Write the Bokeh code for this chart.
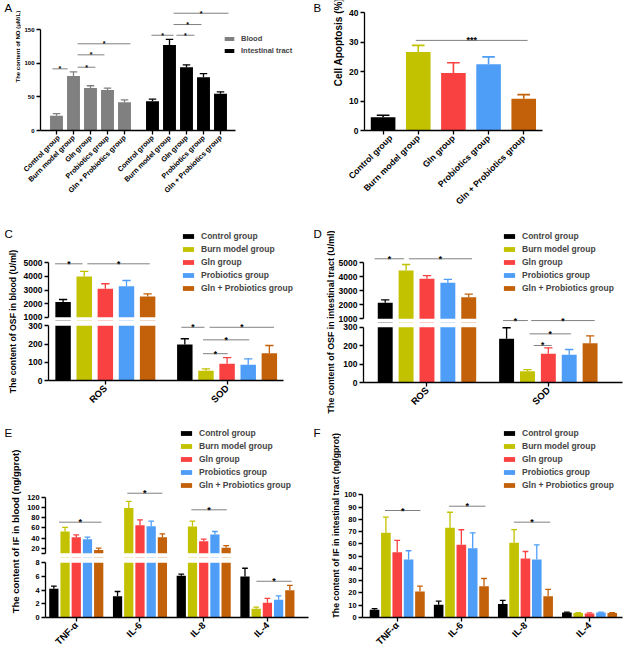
import numpy as np
from math import pi
from bokeh.plotting import figure
from bokeh.models import Range1d, FixedTicker, Label, Legend, LegendItem
from bokeh.layouts import row, column
from bokeh.embed import file_html
from bokeh.resources import INLINE
from bokeh.core.properties import value

FONT = "Liberation Sans"
GROUPS = ["Control group", "Burn model group", "Gln group", "Probiotics group", "Gln + Probiotics group"]
COLORS = ["#000000", "#C2C200", "#F94141", "#4E9EF8", "#C2610A"]
GREY = "#808080"
SIGC = "#808080"

# ---------------- data ----------------
# A: NO content (uM/L)
no_blood = [22, 81, 63, 60, 42]
no_blood_sd = [3, 6, 3.5, 3, 3.5]
no_int = [43.5, 127, 94, 79, 54.5]
no_int_sd = [3, 8.5, 3.5, 5.5, 3]
sigA_group = [0, 0, 0, 0, 1, 1, 1, 1]
sigA_from = [-0.24, 1.24, 1.24, 1.24, -0.06, 1.41, 1.24, 1.24]
sigA_to = [0.65, 2.29, 2.82, 4.35, 1.24, 2.47, 2.88, 4.47]
sigA_y = [91.6, 94.0, 112.4, 128.8, 141.5, 141.5, 157.4, 174.2]

# B: cell apoptosis (%)
apop = [4.5, 26.7, 19.5, 22.5, 10.8]
apop_sd = [0.7, 2.2, 3.5, 2.5, 1.4]
sigB_from = [0.93]
sigB_to = [4.11]
sigB_y = [30.6]

# C: OSF in blood (U/ml) - rows: groups, cols: ROS, SOD
osf_cats = ["ROS", "SOD"]
osfC = [[2110, 198], [4000, 53], [3090, 92], [3280, 86], [2520, 150]]
osfC_sd = [[190, 31], [370, 11], [370, 33], [420, 33], [200, 42]]
sigC_group = [0, 0, 1, 1, 1, 1]
sigC_from = [-0.38, 1.15, -0.16, 1.17, 0.86, 0.86]
sigC_to = [0.92, 4.10, 0.93, 4.22, 3.05, 2.03]
sigC_y = [4926, 4926, 292, 292, 223, 147]

# D: OSF in intestinal tract (U/ml)
osfD = [[2150, 237], [4450, 61], [3860, 156], [3570, 150], [2540, 213]]
osfD_sd = [[200, 60], [430, 9], [230, 32], [240, 29], [220, 40]]
sigD_group = [0, 0, 1, 1, 1, 1]
sigD_from = [-0.51, 1.13, -0.17, 1.18, 1.10, 1.30]
sigD_to = [0.90, 4.16, 1.02, 4.22, 3.08, 2.16]
sigD_y = [5286, 5286, 336, 336, 264, 201]

# E: IF in blood (ng/gprot) - rows: groups, cols: TNF-a, IL-6, IL-8, IL-4
if_cats = ["TNF-α", "IL-6", "IL-8", "IL-4"]
ifE = [[4.2, 3.1, 6.1, 6.0], [52.7, 98.8, 62.5, 1.27], [41.6, 65, 33.7, 2.15],
       [37.6, 63, 46.9, 2.6], [16.5, 41.6, 20.8, 4.0]]
ifE_sd = [[0.4, 0.7, 0.25, 1.2], [8.3, 13, 10.5, 0.25], [4.4, 10.5, 3.9, 0.65],
          [4.0, 10, 5.8, 0.55], [3.5, 6.6, 4.2, 0.7]]
sigE_group = [0, 1, 2, 3]
sigE_from = [0.46, 0.87, 0.90, 1.02]
sigE_to = [4.25, 4.00, 4.06, 4.16]
sigE_y = [71, 127.8, 95.3, 5.3]

# F: IF in intestinal tract (ng/gprot)
ifF = [[6.3, 10.3, 11.1, 4.0], [69, 73.1, 60.9, 3.6], [53.2, 59.2, 48.1, 3.3],
       [47.3, 56.5, 47.3, 4.0], [21.2, 25.5, 17.4, 3.6]]
ifF_sd = [[1.0, 3.0, 2.8, 0.4], [12.8, 12.7, 10.8, 0.4], [9.6, 12.3, 5.7, 0.4],
          [7.1, 12.5, 11.9, 0.4], [4.3, 6.3, 5.6, 0.4]]
sigF_group = [0, 1, 2]
sigF_from = [0.92, 0.92, 0.98]
sigF_to = [4.04, 4.13, 4.19]
sigF_y = [87.2, 90.7, 77.7]


# ---------------- helpers ----------------
def new_fig(w, h, bl, br, bb, xr, yr, extra=None, xaxis=True):
    kw = {}
    if extra is not None:
        kw["extra_y_ranges"] = extra
    if not xaxis:
        kw["x_axis_location"] = None
    p = figure(width=w, height=h, x_range=xr, y_range=yr, output_backend="svg",
               toolbar_location=None, min_border_left=bl, min_border_right=br,
               min_border_top=0, min_border_bottom=bb, **kw)
    p.outline_line_color = None
    p.grid.visible = False
    p.border_fill_color = "white"
    p.background_fill_color = "white"
    return p


def strip(w, h, letter, lx, ly, ylabel, cx, cy, fs):
    s = figure(width=w, height=h, x_range=Range1d(0, w), y_range=Range1d(h, 0),
               x_axis_location=None, y_axis_location=None, min_border=0,
               output_backend="svg", toolbar_location=None)
    s.outline_line_color = None
    s.grid.visible = False
    s.add_layout(Label(x=lx, y=ly, text=letter, text_font=FONT, text_font_size="11.5px",
                       text_baseline="alphabetic", text_align="left", text_color="black"))
    s.add_layout(Label(x=cx, y=cy, text=ylabel, angle=pi / 2, text_font=FONT,
                       text_font_size=f"{fs}px", text_font_style="bold",
                       text_align="center", text_baseline="middle", text_color="black"))
    return s


def style_axis(ax, fs, lw=1.3):
    ax.axis_line_color = "black"
    ax.axis_line_width = lw
    ax.major_tick_line_color = "black"
    ax.major_tick_line_width = lw
    ax.major_tick_out = 4
    ax.major_tick_in = 0
    ax.minor_tick_line_color = None
    ax.major_label_text_font = FONT
    ax.major_label_text_font_style = "bold"
    ax.major_label_text_font_size = f"{fs}px"
    ax.major_label_text_color = "black"
    ax.major_label_standoff = 2


def y_axis(ax, fs, ticks, bounds, overrides=None):
    style_axis(ax, fs)
    ax.ticker = FixedTicker(ticks=list(ticks), minor_ticks=[])
    ax.bounds = bounds
    if overrides:
        ax.major_label_overrides = overrides


def x_cat_axis(ax, ticks, labels, fs, bounds=None):
    style_axis(ax, fs)
    ax.ticker = FixedTicker(ticks=list(ticks), minor_ticks=[])
    ax.major_label_overrides = {float(t): l for t, l in zip(ticks, labels)}
    ax.major_label_orientation = pi / 4
    if bounds is not None:
        ax.bounds = bounds


def err_bars(p, xs, tops, sds, color, capw, lw, rng="default"):
    xs = np.asarray(xs, float)
    tops = np.asarray(tops, float)
    e = tops + np.asarray(sds, float)
    p.segment(x0=xs, y0=tops, x1=xs, y1=e, line_color=color, line_width=lw, y_range_name=rng)
    p.segment(x0=xs - capw, y0=e, x1=xs + capw, y1=e, line_color=color, line_width=lw,
              y_range_name=rng)


def broken_bars(p, xs, vals, sds, color, width, cut, start, capw, lw):
    xs = np.asarray(xs, float)
    vals = np.asarray(vals, float)
    sds = np.asarray(sds, float)
    r = p.vbar(x=xs, top=np.minimum(vals, cut), bottom=0, width=width,
               fill_color=color, line_color=None, y_range_name="l")
    up = vals > start
    if up.any():
        p.vbar(x=xs[up], top=vals[up], bottom=start, width=width, fill_color=color,
               line_color=None, y_range_name="u")
        err_bars(p, xs[up], vals[up], sds[up], color, capw, lw, "u")
    lo = ~up
    if lo.any():
        err_bars(p, xs[lo], vals[lo], sds[lo], color, capw, lw, "l")
    return r


def sig_lines(p, base, mid, step, groups, frm, to, ys, rngs, fs, txt="*"):
    # draw each significance bracket only in the figure whose frame holds it
    for rn in sorted(set(rngs)):
        rg = p.y_range if rn == "default" else p.extra_y_ranges[rn]
        lo_v, hi_v = min(rg.start, rg.end), max(rg.start, rg.end)
        idx = [k for k in range(len(ys)) if rngs[k] == rn and lo_v <= ys[k] <= hi_v]
        if not idx:
            continue
        x0 = np.array([base[groups[k]] + (frm[k] - mid) * step for k in idx])
        x1 = np.array([base[groups[k]] + (to[k] - mid) * step for k in idx])
        y = np.array([ys[k] for k in idx], float)
        p.segment(x0=x0, y0=y, x1=x1, y1=y, line_color=SIGC, line_width=1, y_range_name=rn)
        p.text(x=(x0 + x1) / 2, y=y, text=[txt] * len(idx), text_align="center",
               text_baseline="alphabetic", y_offset=0, text_font=value(FONT),
               text_font_style="bold", text_font_size=value(f"{fs}px"),
               text_color="black", y_range_name=rn)


def add_legend(p, renderers, labels, vx, vy, fs, gw=14, gh=6, lh=13, standoff=6):
    items = [LegendItem(label=l, renderers=[r]) for l, r in zip(labels, renderers)]
    lg = Legend(items=items, location=(vx, vy), glyph_width=gw, glyph_height=gh,
                label_height=lh, label_standoff=standoff, spacing=0, padding=0, margin=0,
                border_line_color=None, background_fill_alpha=0,
                label_text_font=FONT, label_text_font_style="bold",
                label_text_font_size=f"{fs}px")
    p.add_layout(lg)


def seg_range(top, bottom, v0, p0, s):
    # range whose frame spans pixel rows [top, bottom], value v0 sits at row p0, s px per unit
    return Range1d(v0 + (p0 - bottom) / s, v0 + (p0 - top) / s)


def broken_pair(w, bl, br, top, split, bottom, canvas_bottom, xr, ua, la):
    figs = []
    for ft, fb, cb, upper in [(top, split, split, True), (split, bottom, canvas_bottom, False)]:
        ru = seg_range(ft, fb, *ua)
        rl = seg_range(ft, fb, *la)
        p = new_fig(w, cb - ft, bl, br, cb - fb, xr, ru if upper else rl,
                    extra={"u": ru, "l": rl}, xaxis=not upper)
        figs.append(p)
    return figs


# ---------------- panel A ----------------
GAP_A = 5.647
xsA_blood = np.arange(5) * 1.0
xsA_int = GAP_A + np.arange(5)
pA = new_fig(289, 224, 19, 10, 94, Range1d(-0.941, 14.353), Range1d(0, 193.1))
rA1 = pA.vbar(x=xsA_blood, top=no_blood, width=0.76, fill_color=GREY, line_color=None)
rA2 = pA.vbar(x=xsA_int, top=no_int, width=0.76, fill_color="black", line_color=None)
err_bars(pA, xsA_blood, no_blood, no_blood_sd, GREY, 0.22, 1.3)
err_bars(pA, xsA_int, no_int, no_int_sd, "black", 0.22, 1.3)
sig_lines(pA, [0.0, GAP_A], 0, 1.0, sigA_group, sigA_from, sigA_to, sigA_y,
          ["default"] * len(sigA_y), 7)
y_axis(pA.yaxis[0], 6, [0, 50, 100, 150], (0, 150))
x_cat_axis(pA.xaxis[0], list(xsA_blood) + list(xsA_int), GROUPS + GROUPS, 7.2,
           bounds=(-0.941, 10.53))
add_legend(pA, [rA1, rA2], ["Blood", "Intestinal tract"], 183, 74, 7.5, gw=12, gh=5, lh=12)
sA = strip(21, 224, "A", 4, 13.5, "The content of NO (μM/L)", 17, 79.6, 6)

# ---------------- panel B ----------------
xsB = np.arange(5) * 1.0
pB = new_fig(278, 224, 16, 82, 93, Range1d(-0.529, 4.534), Range1d(0, 44.15))
pB.vbar(x=xsB, top=apop, width=0.70, fill_color=COLORS, line_color=None)
for i in range(5):
    err_bars(pB, [xsB[i]], [apop[i]], [apop_sd[i]], COLORS[i], 0.18, 1.6)
sig_lines(pB, [0.0], 0, 1.0, [0], sigB_from, sigB_to, sigB_y, ["default"], 9, txt="***")
y_axis(pB.yaxis[0], 8.5, [0, 10, 20, 30, 40], (0, 40))
x_cat_axis(pB.xaxis[0], xsB, GROUPS, 8.7)
sB = strip(36, 224, "B", 3, 13.5, "Cell Apoptosis (%)", 28, 71.7, 10)


# ---------------- panels C, D (broken y axis) ----------------
def osf_panel(vals, sds, w, bl, br, split, bottom, xr, ua, la, step, bw, sig, leg_pos, xb=None):
    up, lo = broken_pair(w, bl, br, 224, split, bottom, 424, xr, ua, la)
    rngs = ["u" if g == 0 else "l" for g in sig[0]]
    legend_rs = []
    for p in (up, lo):
        rs = []
        for i in range(5):
            xs = np.arange(2) + (i - 2) * step
            rs.append(broken_bars(p, xs, vals[i], sds[i], COLORS[i], bw, 300, 1000, 0.034, 1.3))
        sig_lines(p, [0.0, 1.0], 2, step, sig[0], sig[1], sig[2], sig[3], rngs, 8.5)
        legend_rs.append(rs)
    y_axis(up.yaxis[0], 8.5, [1000, 2000, 3000, 4000, 5000], (1000, 5000))
    y_axis(lo.yaxis[0], 8.5, [0, 100, 200, 300], (0, 300))
    x_cat_axis(lo.xaxis[0], [0, 1], osf_cats, 9.5, bounds=xb)
    add_legend(up, legend_rs[0], GROUPS, leg_pos[0], leg_pos[1], 8.5)
    return column(up, lo)


mC = osf_panel(osfC, osfC_sd, 290, 26, 10, 320, 380, Range1d(-0.467, 1.603),
               (1000, 316.7, 0.0136), (0, 380, 0.1823), 0.1736, 0.127,
               (sigC_group, sigC_from, sigC_to, sigC_y), (133, 26), xb=(-0.467, 1.465))
sC = strip(20, 200, "C", 4, 9.5, "The content of OSF in blood (U/ml)", 12, 97, 8.7)

mD = osf_panel(osfD, osfD_sd, 289, 26, 2, 322, 382, Range1d(-0.523, 1.611),
               (1000, 318.3, 0.0140), (0, 382, 0.1843), 0.172, 0.123,
               (sigD_group, sigD_from, sigD_to, sigD_y), (139, 28))
sD = strip(25, 200, "D", 3, 9.5, "The content of OSF in intestinal tract (U/ml)", 20, 97.5, 8.9)

# ---------------- panel E (broken y axis) ----------------
xrE = Range1d(-0.483, 3.645)
upE, loE = broken_pair(286, 19, 2, 424, 557, 617, 664, xrE, (20, 547.7, 0.51), (0, 617, 6.8375))
stepE = 0.176
rngsE = ["u", "u", "u", "l"]
legE = None
for p in (upE, loE):
    rs = []
    for i in range(5):
        xs = np.arange(4) + (i - 2) * stepE
        rs.append(broken_bars(p, xs, ifE[i], ifE_sd[i], COLORS[i], 0.145, 8, 10, 0.045, 1.3))
    sig_lines(p, [0.0, 1.0, 2.0, 3.0], 2, stepE, sigE_group, sigE_from, sigE_to, sigE_y, rngsE, 9)
    if legE is None:
        legE = rs
y_axis(upE.yaxis[0], 7.4, [10, 20, 40, 60, 80, 100, 120], (10, 120), overrides={10: ""})
y_axis(loE.yaxis[0], 7.4, [0, 2, 4, 6, 8], (0, 8))
x_cat_axis(loE.xaxis[0], [0, 1, 2, 3], if_cats, 9.5)
add_legend(upE, legE, GROUPS, 134, 66, 8.5)
mE = column(upE, loE)
sE = strip(24, 240, "E", 4, 11, "The content of IF in blood (ng/gprot)", 15, 133, 9.5)

# ---------------- panel F ----------------
pF = new_fig(283, 240, 19, 2, 47, Range1d(-0.542, 3.514), Range1d(0, 157.3))
stepF = 0.177
rsF = []
for i in range(5):
    xs = np.arange(4) + (i - 2) * stepF
    rsF.append(pF.vbar(x=xs, top=ifF[i], width=0.15, fill_color=COLORS[i], line_color=None))
    err_bars(pF, xs, ifF[i], ifF_sd[i], COLORS[i], 0.045, 1.3)
sig_lines(pF, [0.0, 1.0, 2.0, 3.0], 2, stepF, sigF_group, sigF_from, sigF_to, sigF_y,
          ["default"] * 3, 9)
y_axis(pF.yaxis[0], 7.4, list(range(0, 101, 10)), (0, 100))
x_cat_axis(pF.xaxis[0], [0, 1, 2, 3], if_cats, 9.5)
add_legend(pF, rsF, GROUPS, 140, 126, 8.5)
sF = strip(31, 240, "F", 3, 11, "The content of IF in intestinal tract (ng/gprot)", 25, 126, 8.7)

layout = column(row(sA, pA, sB, pB), row(sC, mC, sD, mD), row(sE, mE, sF, pF))
open("out.html", "w").write(file_html(layout, INLINE))
